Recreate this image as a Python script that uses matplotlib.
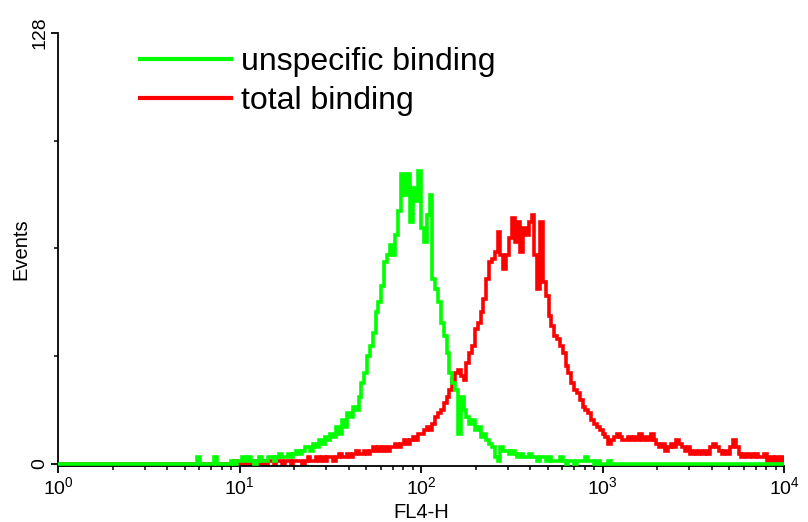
import matplotlib.pyplot as plt
import numpy as np
from matplotlib.ticker import FixedLocator, FixedFormatter, NullFormatter

plt.rcParams['font.family'] = ['Liberation Sans', 'DejaVu Sans']
plt.rcParams['mathtext.fontset'] = 'custom'
plt.rcParams['mathtext.rm'] = 'Liberation Sans'

# 256 log channels over 4 decades (FL4-H 1 .. 10^4)
n_channels = 256
first_green = 48
first_red = 60

# counts, starting at channel first_green / first_red
green_counts = [
    0, 2, 0, 0, 0, 0, 0, 2, 0, 0, 0, 0, 0, 1, 0, 1, 1, 2, 1, 2,
    1, 0, 1, 2, 1, 1, 2, 2, 1, 2, 3, 2, 2, 3, 2, 3, 4, 3, 4, 5,
    5, 4, 6, 5, 7, 6, 8, 7, 9, 8, 11, 9, 13, 11, 15, 14, 17, 16, 20, 24,
    27, 32, 35, 39, 45, 48, 53, 60, 62, 65, 62, 68, 75, 86, 80, 86, 72, 82, 78, 87,
    70, 66, 74, 80, 55, 52, 48, 42, 38, 33, 27, 24, 22, 9, 20, 16, 14, 12, 13, 10,
    11, 8, 9, 7, 6, 5, 2, 1, 5, 4, 4, 3, 4, 3, 2, 3, 2, 2, 3, 2,
    2, 1, 2, 2, 1, 2, 1, 1, 1, 2, 1, 0, 1, 1, 0, 1, 1, 1, 2, 1,
    1, 0, 1, 0, 0, 0, 1, 0,
]
red_counts = [
    0, 0, 1, 0, 0, 1, 0, 0, 1, 0, 1, 0, 1, 0, 1, 1, 0, 1, 1, 0,
    1, 1, 0, 1, 1, 1, 0, 1, 2, 1, 1, 2, 1, 2, 1, 2, 2, 1, 2, 3,
    2, 2, 3, 2, 3, 4, 3, 3, 4, 3, 4, 5, 4, 5, 4, 5, 4, 5, 5, 6,
    5, 6, 7, 6, 7, 8, 7, 9, 9, 10, 11, 10, 12, 14, 15, 16, 18, 20, 22, 25,
    27, 28, 26, 25, 30, 33, 35, 40, 42, 45, 49, 55, 60, 61, 63, 69, 62, 58, 62, 67,
    73, 66, 72, 63, 70, 68, 72, 74, 62, 52, 72, 54, 50, 44, 41, 38, 37, 35, 33, 29,
    27, 24, 22, 21, 19, 17, 16, 15, 13, 12, 11, 10, 9, 8, 6, 7, 8, 9, 8, 7,
    7, 8, 7, 8, 7, 9, 7, 8, 7, 9, 7, 6, 5, 6, 4, 5, 6, 5, 7, 6,
    5, 4, 5, 3, 4, 3, 4, 3, 4, 3, 5, 6, 5, 4, 3, 4, 3, 5, 7, 5,
    3, 2, 3, 2, 3, 2, 3, 2, 2, 3, 1, 2, 1, 2, 1, 2,
]


def full_histogram(start, counts):
    h = np.zeros(n_channels)
    h[start:start + len(counts)] = counts
    return h


def main():
    edges = 10 ** (np.arange(n_channels + 1) * 4.0 / n_channels)
    green = full_histogram(first_green, green_counts)
    red = full_histogram(first_red, red_counts)

    fig = plt.figure(figsize=(8.08, 5.22), dpi=100)
    ax = fig.add_axes([0.0718, 0.1073, 0.8985, 0.8295])

    ax.stairs(red, edges, color='#ff0000', lw=2.6, label='total binding', zorder=2)
    ax.stairs(green, edges, color='#00ff00', lw=2.6, label='unspecific binding', zorder=3)

    ax.set_xscale('log')
    ax.set_xlim(1, 1e4)
    ax.set_ylim(-0.6, 128)

    for side in ['top', 'right']:
        ax.spines[side].set_visible(False)
    for side in ['left', 'bottom']:
        ax.spines[side].set_linewidth(1.3)
        ax.spines[side].set_zorder(2.5)

    decades = [1, 10, 100, 1000, 10000]
    ax.xaxis.set_major_locator(FixedLocator(decades))
    ax.xaxis.set_major_formatter(FixedFormatter(
        [r'$\mathregular{10^{%d}}$' % k for k in range(5)]))
    minors = [m * d for d in decades[:-1] for m in range(2, 10)]
    ax.xaxis.set_minor_locator(FixedLocator(minors))
    ax.xaxis.set_minor_formatter(NullFormatter())

    ax.set_yticks([0, 128])
    ax.set_yticks([32, 64, 96], minor=True)
    ax.set_yticklabels(['0', '128'], rotation=90, va='center')

    ax.tick_params(which='major', length=5, width=1.3, labelsize=14, pad=2)
    ax.tick_params(which='minor', length=3, width=1.1)

    ax.set_xlabel('FL4-H', fontsize=14.5, labelpad=4)
    ax.set_ylabel('Events', fontsize=14.5, labelpad=1)

    handles, labels = ax.get_legend_handles_labels()
    leg = ax.legend(handles[::-1], labels[::-1], loc='upper left',
                    bbox_to_anchor=(140 / 808, 1 - 47 / 522),
                    bbox_transform=fig.transFigure, frameon=False,
                    fontsize=23, handlelength=2.85, handletextpad=0.3,
                    borderpad=0, borderaxespad=0, labelspacing=0.28)
    for h in leg.legend_handles:
        h.set_linewidth(3)

    fig.savefig('out.png', dpi=100)


if __name__ == '__main__':
    main()
